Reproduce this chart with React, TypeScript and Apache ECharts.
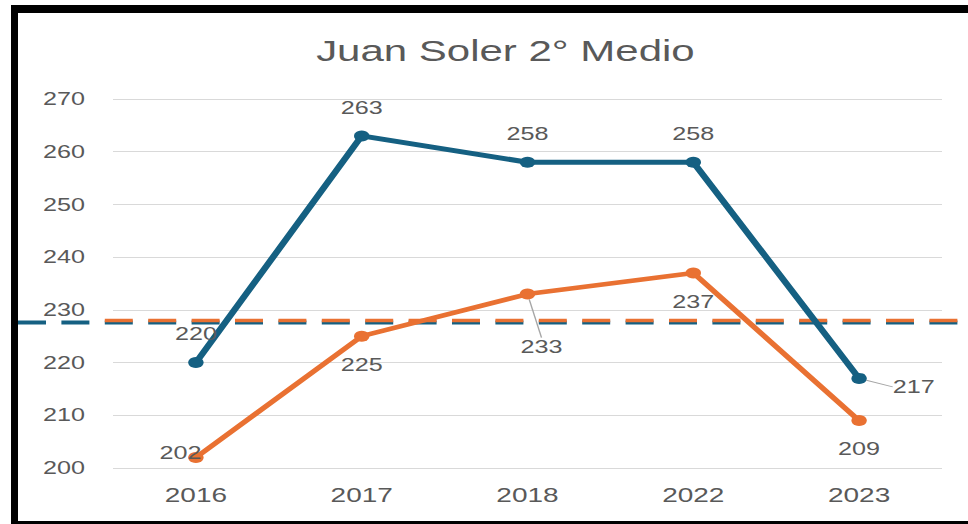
import React, { useEffect, useRef } from "react";
import * as echarts from "echarts";

// ---- data ----
const years: string[] = ["2016", "2017", "2018", "2022", "2023"];
const blueValues: number[] = [220, 263, 258, 258, 217];
const orangeValues: number[] = [202, 225, 233, 237, 209];
const blueReference = 227.6;
const orangeReference = 228.0;
const yMin = 200;
const yMax = 270;
const yInterval = 10;
const chartTitle = "Juan Soler 2° Medio";

// ---- layout ----
const W = 968;
const H = 524;
const STRETCH = 1.4; // the reference image is horizontally stretched
const CW = W / STRETCH;
const BLUE = "#156082";
const ORANGE = "#E97132";
const TEXT = "#595959";
const FONT = "'Liberation Sans', Arial, sans-serif";

export default function App() {
  const ref = useRef<HTMLDivElement>(null);

  useEffect(() => {
    if (!ref.current) return;
    const chart = echarts.init(ref.current, null, { renderer: "svg", width: CW, height: H });
    const gridLeft = 113 / STRETCH;
    const gridRight = CW - 942 / STRETCH;

    chart.setOption({
      animation: false,
      backgroundColor: "#ffffff",
      title: {
        text: chartTitle,
        left: 356,
        textAlign: "center",
        top: 31,
        textStyle: { color: TEXT, fontSize: 30, fontWeight: "normal", fontFamily: FONT },
      },
      grid: { left: gridLeft, right: gridRight, top: 99, bottom: H - 468 },
      xAxis: {
        type: "category",
        data: years,
        boundaryGap: true,
        axisLine: { show: false },
        axisTick: { show: false },
        axisLabel: { color: TEXT, fontSize: 20, fontFamily: FONT, margin: 17 },
      },
      yAxis: {
        type: "value",
        min: yMin,
        max: yMax,
        interval: yInterval,
        axisLine: { show: false },
        axisTick: { show: false },
        splitLine: { lineStyle: { color: "#d9d9d9", width: 1 } },
        axisLabel: { color: TEXT, fontSize: 18, fontFamily: FONT, margin: 20 },
      },
      series: [
        {
          type: "line",
          name: "blue",
          data: blueValues.map((v, i) =>
            i === 4 ? { value: v, labelLine: { show: true, lineStyle: { color: "#a6a6a6", width: 1 } } } : v
          ),
          z: 3,
          symbol: "circle",
          symbolSize: 11,
          lineStyle: { color: BLUE, width: 5 },
          itemStyle: { color: BLUE },
          label: { show: true, position: "top", distance: 14, color: TEXT, fontSize: 18, fontFamily: FONT },
          labelLayout: (p: any) => (p.dataIndex === 4 ? { dx: 39, dy: 37 } : {}),
        },
        {
          type: "line",
          name: "orange",
          data: orangeValues.map((v, i) =>
            i === 2 ? { value: v, labelLine: { show: true, lineStyle: { color: "#a6a6a6", width: 1 } } } : v
          ),
          z: 3,
          symbol: "circle",
          symbolSize: 11,
          lineStyle: { color: ORANGE, width: 4.5 },
          itemStyle: { color: ORANGE },
          label: { show: true, position: "bottom", distance: 14, color: TEXT, fontSize: 18, fontFamily: FONT },
          labelLayout: (p: any) =>
            p.dataIndex === 2 ? { dx: 10, dy: 24 } : p.dataIndex === 0 ? { dx: -11, dy: -33 } : {},
        },
      ],
    });

    const yBlue = chart.convertToPixel({ yAxisIndex: 0 }, blueReference) as number;
    const yOrange = chart.convertToPixel({ yAxisIndex: 0 }, orangeReference) as number;
    const dash = [20, 11];
    const blueStart = 18 / STRETCH;
    const orangeStart = blueStart + 2 * (dash[0] + dash[1]);
    chart.setOption({
      graphic: [
        {
          type: "line",
          z: 1,
          shape: { x1: blueStart, y1: yBlue, x2: CW, y2: yBlue },
          style: { stroke: BLUE, lineWidth: 4, lineDash: dash },
        },
        {
          type: "line",
          z: 1,
          shape: { x1: orangeStart, y1: yOrange, x2: CW, y2: yOrange },
          style: { stroke: ORANGE, lineWidth: 3.5, lineDash: dash },
        },
      ],
    });

    return () => chart.dispose();
  }, []);

  return (
    <div
      style={{
        position: "absolute",
        left: 0,
        top: 0,
        width: W,
        height: H,
        overflow: "hidden",
        background: "#ffffff",
      }}
    >
      <div
        ref={ref}
        style={{ width: CW, height: H, transform: `scaleX(${STRETCH})`, transformOrigin: "0 0" }}
      />
      <div style={{ position: "absolute", left: 11, top: 5, width: W - 11, height: 8, background: "#000" }} />
      <div style={{ position: "absolute", left: 11, top: 5, width: 7, height: H - 5, background: "#000" }} />
      <div style={{ position: "absolute", left: 11, top: 521, width: W - 11, height: 3, background: "#000" }} />
    </div>
  );
}
